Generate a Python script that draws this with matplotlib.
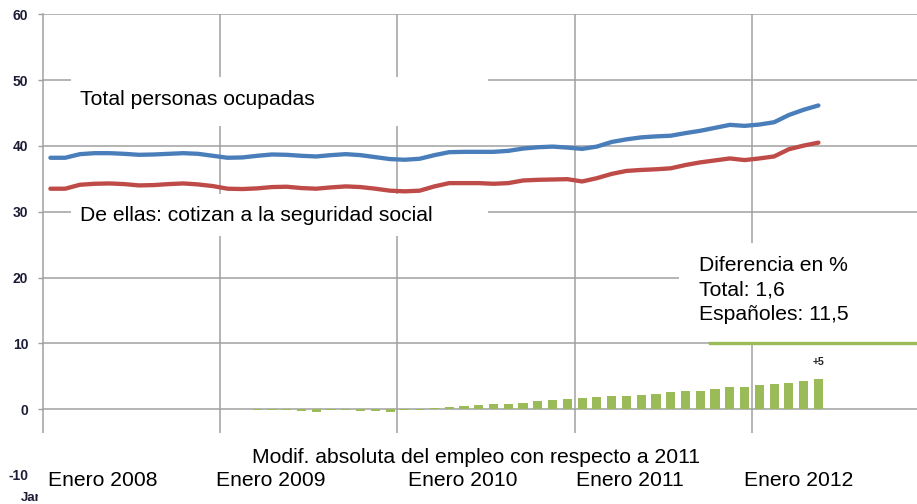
import numpy as np
import matplotlib
matplotlib.use("Agg")
import matplotlib.pyplot as plt
from matplotlib.patches import Rectangle
from matplotlib.lines import Line2D

plt.rcParams["font.family"] = ["Liberation Sans", "DejaVu Sans"]

# --- data (millones de personas), monthly Jan 2008 .. May 2012 ---
total_ocupadas = [
    38.2, 38.2, 38.75, 38.9, 38.9, 38.8, 38.65, 38.7, 38.8, 38.9, 38.8, 38.5,
    38.2, 38.25, 38.5, 38.7, 38.65, 38.5, 38.4, 38.6, 38.75, 38.6, 38.3, 38.0,
    37.9, 38.05, 38.6, 39.05, 39.1, 39.1, 39.1, 39.25, 39.6, 39.8, 39.9, 39.75,
    39.55, 39.9, 40.6, 41.0, 41.3, 41.45, 41.55, 41.95, 42.3, 42.75, 43.2, 43.05,
    43.25, 43.6, 44.7, 45.5, 46.15,
]
cotizan_ss = [
    33.5, 33.5, 34.1, 34.25, 34.3, 34.2, 34.0, 34.05, 34.2, 34.3, 34.15, 33.9,
    33.5, 33.45, 33.55, 33.75, 33.8, 33.6, 33.5, 33.7, 33.85, 33.75, 33.5, 33.2,
    33.1, 33.2, 33.85, 34.35, 34.35, 34.35, 34.25, 34.35, 34.75, 34.85, 34.9, 34.95,
    34.6, 35.1, 35.75, 36.2, 36.35, 36.45, 36.6, 37.1, 37.5, 37.8, 38.1, 37.85,
    38.1, 38.4, 39.5, 40.05, 40.5,
]
# no bars during 2008
modif_absoluta = [np.nan] * 12 + [
    0.1, 0.1, -0.05, -0.05, -0.05, -0.3, -0.45, -0.05, -0.05, -0.2, -0.2, -0.4,
    -0.15, -0.15, 0.2, 0.35, 0.5, 0.68, 0.8, 0.83, 1.0, 1.28, 1.43, 1.55,
    1.68, 1.85, 2.05, 2.05, 2.2, 2.35, 2.55, 2.75, 2.75, 3.1, 3.35, 3.35,
    3.65, 3.8, 4.05, 4.35, 4.6,
]
year_labels = ["Enero 2008", "Enero 2009", "Enero 2010", "Enero 2011", "Enero 2012"]
y_ticks = [-10, 0, 10, 20, 30, 40, 50, 60]
last_bar_label = "+5"

BLUE = "#4A7EBB"
RED = "#BE4B48"
GREEN = "#9BBB59"
GRID = "#A0A0A0"

W, H = 917, 504


def fx(x):
    return x / W


def fy(y):
    return 1 - y / H


fig = plt.figure(figsize=(W / 100, H / 100), dpi=100)
ax = fig.add_axes([fx(43), fy(475), 1 - fx(43), (475 - 14.3) / H])

months = np.arange(len(total_ocupadas))
ax.plot(months, total_ocupadas, color=BLUE, lw=3.1, solid_capstyle="round",
        solid_joinstyle="round", zorder=3)
ax.plot(months, cotizan_ss, color=RED, lw=3.1, solid_capstyle="round",
        solid_joinstyle="round", zorder=3)
ax.bar(months, modif_absoluta, width=0.62, color=GREEN, zorder=3)

last = len(modif_absoluta) - 1
ax.annotate(last_bar_label, (last, modif_absoluta[last]), xytext=(0, 8.5),
            textcoords="offset points", ha="center", va="bottom",
            fontsize=7.5, fontweight="bold", color="#222222", zorder=4)

# axes styling (Excel-like)
ax.set_ylim(-10, 60)
ax.set_xlim(-0.5, (W - 43) / 14.77 - 0.5)
ax.set_yticks(y_ticks)
ax.set_yticklabels([str(v) for v in y_ticks])
ax.set_xticks([11.5, 23.5, 35.5, 47.5])
ax.set_xticklabels([])
ax.tick_params(axis="x", length=0)
ax.tick_params(axis="y", length=3.6, width=1.0, color=GRID, pad=7,
               labelsize=10, labelcolor="#1c1c36")
for lab in ax.get_yticklabels():
    lab.set_fontweight("bold")
ax.grid(True, color=GRID, lw=1.1)
ax.set_axisbelow(True)
for side in ["top", "right", "bottom"]:
    ax.spines[side].set_visible(False)
ax.spines["left"].set_color(GRID)
ax.spines["left"].set_linewidth(1.1)

# cropped axis label peeking out at bottom-left
ax.text(fx(20.5), fy(501), "Jan", transform=fig.transFigure, fontsize=9.5,
        fontweight="bold", color="#1c1c36", va="baseline", clip_on=False,
        zorder=2)

# white text boxes that hide the grid, as in the original slide
boxes = [(71, 77, 488, 126), (71, 194, 488, 236), (679, 243, 917, 342),
         (38, 433, 917, 504)]
for x0, y0, x1, y1 in boxes:
    ax.add_patch(Rectangle((fx(x0), fy(y1)), fx(x1) - fx(x0), fy(y0) - fy(y1),
                           transform=fig.transFigure, facecolor="white",
                           edgecolor="none", clip_on=False, zorder=2.6))

ax.add_line(Line2D([fx(710), 1.0], [fy(343), fy(343)], transform=fig.transFigure,
                   color=GREEN, lw=2.4, clip_on=False, zorder=2.7))

txt = dict(fontsize=15.2, color="black", va="baseline", zorder=4)
fig.text(fx(80), fy(105), "Total personas ocupadas", **txt)
fig.text(fx(79.5), fy(221), "De ellas: cotizan a la seguridad social", **txt)
fig.text(fx(699), fy(271), "Diferencia en %", **txt)
fig.text(fx(699), fy(295.5), "Total: 1,6", **txt)
fig.text(fx(699), fy(319.5), "Españoles: 11,5", **txt)
fig.text(fx(252), fy(463), "Modif. absoluta del empleo con respecto a 2011", **txt)

label_left = [47.7, 216, 407.5, 576, 744]
for x, lab in zip(label_left, year_labels):
    fig.text(fx(x), fy(486), lab, **txt)

fig.savefig("out.png", dpi=100)
